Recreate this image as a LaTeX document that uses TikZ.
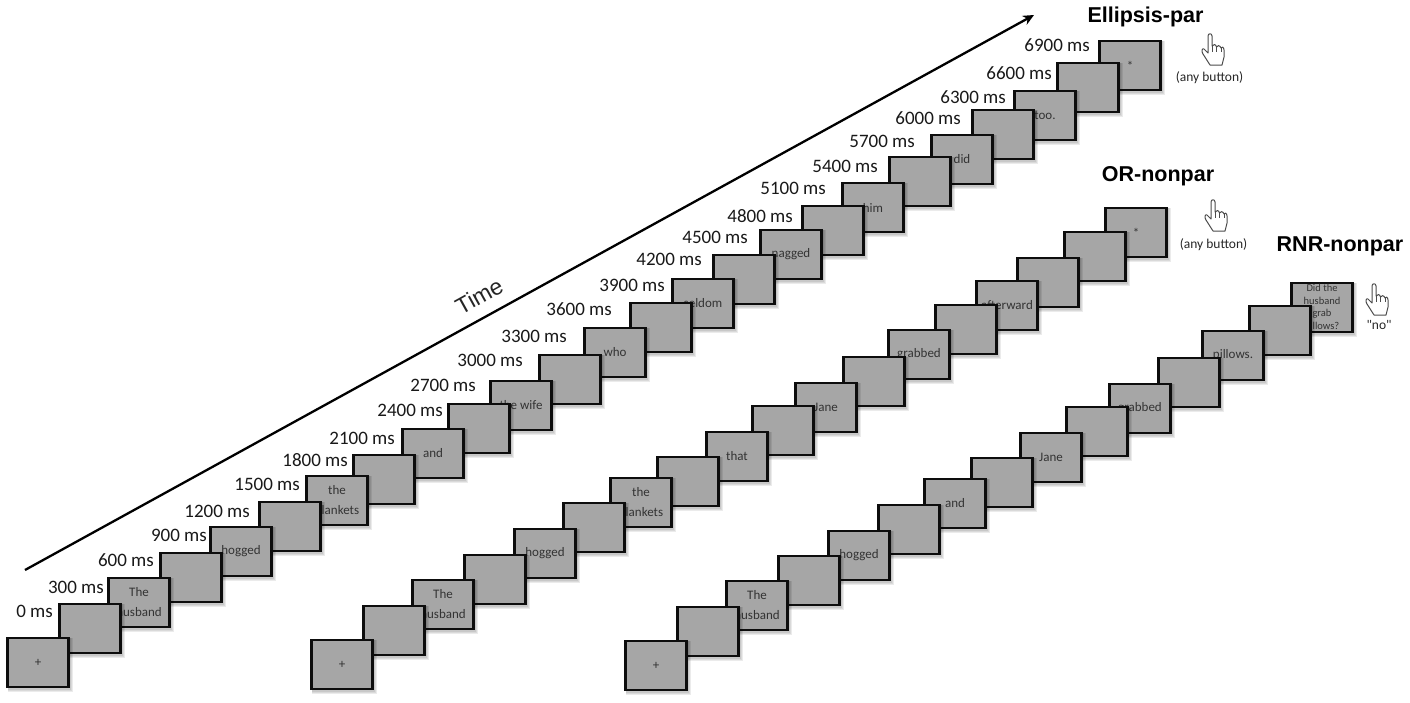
\documentclass[tikz,border=0pt]{standalone}
\usepackage{fontspec}
\setmainfont{Carlito}
\newfontfamily\arialfont{Liberation Sans}
\newfontfamily\respfont{Carlito}
\usetikzlibrary{arrows.meta}
\definecolor{stimgray}{HTML}{A6A6A6}
\tikzset{
  stim/.style={draw=black!95,line width=2.3pt,fill=stimgray,minimum width=61pt,minimum height=48.5pt,inner sep=0pt,align=center,font=\fontsize{13}{20}\selectfont,text=black!80},
  stimsmall/.style={font=\fontsize{10.5}{12.5}\selectfont},
  softshadow/.style={fill=black,opacity=0.08},
  timelab/.style={anchor=east,inner sep=0pt,font=\fontsize{19}{21}\selectfont,text=black!90},
  heading/.style={inner sep=0pt,font=\arialfont\bfseries\fontsize{21.5}{24}\selectfont,text=black},
  resp/.style={inner sep=0pt,font=\respfont\fontsize{13.5}{15}\selectfont,text=black!85},
  handline/.style={draw=black!70,line width=1pt,fill=white,line join=round}
}
% [options], name, left, top, text
\newcommand{\stimbox}[5][]{%
  \fill[softshadow] (#3+1,#4+1) rectangle (#3+66,#4+55);
  \fill[softshadow] (#3+1,#4+1) rectangle (#3+65,#4+54);
  \fill[softshadow] (#3+1,#4+1) rectangle (#3+64,#4+53);
  \node[stim,#1] (#2) at (#3+31,#4+25.5) {#5};
}
% x, y: pointing hand, top left of its extent
\newcommand{\pointer}[2]{%
  \begin{scope}[shift={(#1,#2)}]
  \draw[handline] (9,32) -- (2,21) .. controls (0,18) and (1,15) .. (3,16) -- (7,20) -- (7,3)
    .. controls (7,0) and (11,0) .. (11,3) -- (11,13)
    .. controls (12,11) and (15,11) .. (15.5,14)
    .. controls (16,12) and (19,12) .. (20,15)
    .. controls (20.5,13) and (23,14) .. (23,17) -- (23,24) -- (21,32) -- cycle;
  \draw[handline] (15.5,14) -- (15.5,19);
  \draw[handline] (20,15) -- (20,19);
  \draw[handline] (11,13) -- (11,19);
  \end{scope}
}
\begin{document}
\begin{tikzpicture}[x=1pt,y=-1pt]
\useasboundingbox (0,0) rectangle (1410,702);
% Column 1
\stimbox{aY}{1099}{40}{*}
\stimbox{aX}{1057}{62}{}
\stimbox{aW}{1014}{90}{too.}
\stimbox{aV}{972}{109}{}
\stimbox{aU}{931}{134}{did}
\stimbox{aT}{889}{156}{}
\stimbox{aS}{842}{182}{him}
\stimbox{aR}{802}{205}{}
\stimbox{aQ}{760}{229}{nagged}
\stimbox{aP}{713}{254}{}
\stimbox{aO}{672}{278}{seldom}
\stimbox{aN}{630}{302}{}
\stimbox{aM}{584}{327}{who}
\stimbox{aL}{539}{354}{}
\stimbox{aK}{490}{380}{the wife}
\stimbox{aJ}{448}{403}{}
\stimbox{aI}{402}{428}{and}
\stimbox{aH}{353}{454}{}
\stimbox{aG}{306}{475}{the\\blankets}
\stimbox{aF}{259}{501}{}
\stimbox{aE}{210}{526}{hogged}
\stimbox{aD}{160}{552}{}
\stimbox{aC}{108}{577}{The\\husband}
\stimbox{aB}{59}{603}{}
\stimbox{aA}{7}{637}{+}
% Column 2
\stimbox{bR}{1105}{207}{*}
\stimbox{bQ}{1064}{231}{}
\stimbox{bP}{1017}{257}{}
\stimbox{bO}{976}{280}{afterward}
\stimbox{bN}{935}{304}{}
\stimbox{bM}{888}{329}{grabbed}
\stimbox{bL}{843}{356}{}
\stimbox{bK}{795}{382}{Jane}
\stimbox{bJ}{752}{405}{}
\stimbox{bI}{706}{431}{that}
\stimbox{bH}{657}{456}{}
\stimbox{bG}{610}{477}{the\\blankets}
\stimbox{bF}{563}{502}{}
\stimbox{bE}{514}{528}{hogged}
\stimbox{bD}{464}{554}{}
\stimbox{bC}{412}{579}{The\\husband}
\stimbox{bB}{363}{605}{}
\stimbox{bA}{311}{639}{+}
% Column 3
\stimbox[stimsmall]{cO}{1291}{282}{Did the\\husband\\grab\\pillows?}
\stimbox{cN}{1249}{305}{}
\stimbox{cM}{1202}{330}{pillows.}
\stimbox{cL}{1158}{357}{}
\stimbox{cK}{1109}{383}{grabbed}
\stimbox{cJ}{1066}{406}{}
\stimbox{cI}{1020}{432}{Jane}
\stimbox{cH}{971}{457}{}
\stimbox{cG}{924}{478}{and}
\stimbox{cF}{878}{504}{}
\stimbox{cE}{828}{530}{hogged}
\stimbox{cD}{778}{555}{}
\stimbox{cC}{726}{580}{The\\husband}
\stimbox{cB}{677}{606}{}
\stimbox{cA}{625}{640}{+}
% Time labels
\node[timelab] (t0) at (53,611) {0 ms};
\node[timelab] (t1) at (104,587) {300 ms};
\node[timelab] (t2) at (154,560) {600 ms};
\node[timelab] (t3) at (207,535) {900 ms};
\node[timelab] (t4) at (250,511) {1200 ms};
\node[timelab] (t5) at (300,484) {1500 ms};
\node[timelab] (t6) at (348,460) {1800 ms};
\node[timelab] (t7) at (395,438) {2100 ms};
\node[timelab] (t8) at (443,410) {2400 ms};
\node[timelab] (t9) at (476,385) {2700 ms};
\node[timelab] (t10) at (523,360) {3000 ms};
\node[timelab] (t11) at (567,336) {3300 ms};
\node[timelab] (t12) at (612,309) {3600 ms};
\node[timelab] (t13) at (665,285) {3900 ms};
\node[timelab] (t14) at (702,259) {4200 ms};
\node[timelab] (t15) at (748,237) {4500 ms};
\node[timelab] (t16) at (793,216) {4800 ms};
\node[timelab] (t17) at (826,188) {5100 ms};
\node[timelab] (t18) at (878,166) {5400 ms};
\node[timelab] (t19) at (915,141) {5700 ms};
\node[timelab] (t20) at (961,118) {6000 ms};
\node[timelab] (t21) at (1006,97) {6300 ms};
\node[timelab] (t22) at (1052,73) {6600 ms};
\node[timelab] (t23) at (1090,45) {6900 ms};
% Time arrow
\coordinate (timeStart) at (25,570);
\coordinate (timeEnd) at (1034,15);
\draw[line width=2.3pt,black,-{Stealth[length=11pt,width=10pt]}] (timeStart) -- (timeEnd);
\node[inner sep=0pt,rotate=29,font=\arialfont\fontsize{23}{26}\selectfont,text=black!85] (timeLabel) at (479,296) {Time};
% Headings
\node[heading] (h1) at (1145.5,17) {Ellipsis-par};
\node[heading] (h2) at (1158,176) {OR-nonpar};
\node[heading] (h3) at (1340,246) {RNR-nonpar};
% Responses
\pointer{1201}{33}
\pointer{1204}{199}
\pointer{1365}{283}
\node[resp] (r1) at (1209.5,78) {(any button)};
\node[resp] (r2) at (1213.5,245) {(any button)};
\node[resp] (r3) at (1379,325) {"no"};
\end{tikzpicture}
\end{document}
